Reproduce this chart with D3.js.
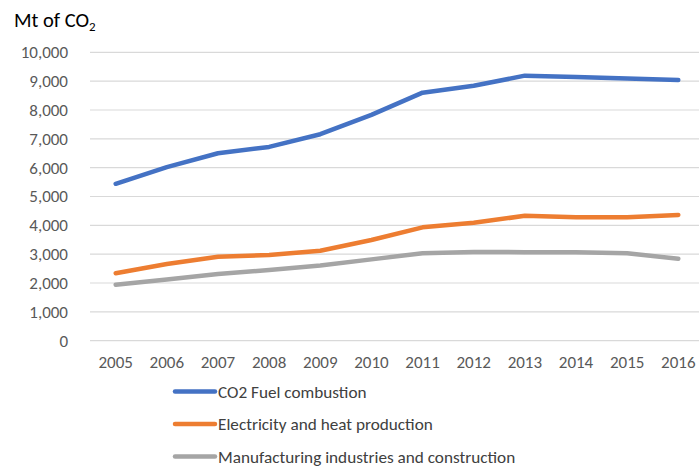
<!DOCTYPE html>
<html><head><meta charset="utf-8">
<script src="https://cdn.jsdelivr.net/npm/d3@7"></script>
<style>
html,body{margin:0;padding:0;background:#fff;}
svg{display:block;font-family:Carlito,Calibri,Lato,sans-serif;}
</style></head>
<body>
<svg id="chart" width="699" height="468"></svg>
<script>
const years = ["2005","2006","2007","2008","2009","2010","2011","2012","2013","2014","2015","2016"];
const fuelCombustion = [5440, 6020, 6500, 6720, 7160, 7830, 8600, 8840, 9190, 9140, 9090, 9040];
const electricityHeat = [2340, 2660, 2910, 2970, 3120, 3490, 3930, 4090, 4330, 4280, 4280, 4360];
const manufacturing = [1940, 2120, 2310, 2450, 2610, 2820, 3030, 3075, 3070, 3070, 3030, 2840];
const yTicks = [0,1000,2000,3000,4000,5000,6000,7000,8000,9000,10000];
const seriesNames = ["CO2 Fuel combustion","Electricity and heat production","Manufacturing industries and construction"];
const seriesColors = ["#4472C4","#ED7D31","#A5A5A5"];

const series = [fuelCombustion, electricityHeat, manufacturing].map((v,i)=>({name:seriesNames[i], color:seriesColors[i], values:v}));

const svg = d3.select("#chart");
const x = d3.scalePoint().domain(years).range([115.7, 678.3]);
const y = d3.scaleLinear().domain([0,10000]).range([340.7, 52.3]);

// gridlines
svg.append("g").selectAll("line").data(yTicks).join("line")
  .attr("x1",90).attr("x2",704)
  .attr("y1",d=>y(d)).attr("y2",d=>y(d))
  .attr("stroke","#d9d9d9").attr("stroke-width",1.2);

// y axis labels
const fmt = d3.format(",");
svg.append("g").selectAll("text").data(yTicks).join("text")
  .attr("x",68).attr("y",d=>y(d)).attr("dy","0.35em")
  .attr("text-anchor","end").attr("fill","#595959").attr("font-size","17px")
  .text(d=>fmt(d));

// x axis labels
svg.append("g").selectAll("text").data(years).join("text")
  .attr("x",d=>x(d)).attr("y",368)
  .attr("text-anchor","middle").attr("fill","#595959").attr("font-size","17px")
  .text(d=>d);

// title
const title = svg.append("text").attr("x",14).attr("y",27).attr("fill","#000").attr("font-size","20.5px");
title.append("tspan").text("Mt of CO");
title.append("tspan").attr("font-size","13px").attr("dy","4").text("2");

// lines
const line = d3.line().x((d,i)=>x(years[i])).y(d=>y(d));
svg.append("g").selectAll("path").data(series).join("path")
  .attr("d",d=>line(d.values))
  .attr("fill","none").attr("stroke",d=>d.color).attr("stroke-width",4.5)
  .attr("stroke-linecap","round").attr("stroke-linejoin","round");

// legend
const lg = svg.append("g").selectAll("g").data(series).join("g")
  .attr("transform",(d,i)=>`translate(175,${391.5 + i*32.5})`);
lg.append("line").attr("x1",0).attr("x2",40).attr("y1",0).attr("y2",0)
  .attr("stroke",d=>d.color).attr("stroke-width",4.5).attr("stroke-linecap","round");
lg.append("text").attr("x",43).attr("y",0).attr("dy","0.35em")
  .attr("fill","#404040").attr("font-size","17.2px").text(d=>d.name);
</script>
</body></html>
